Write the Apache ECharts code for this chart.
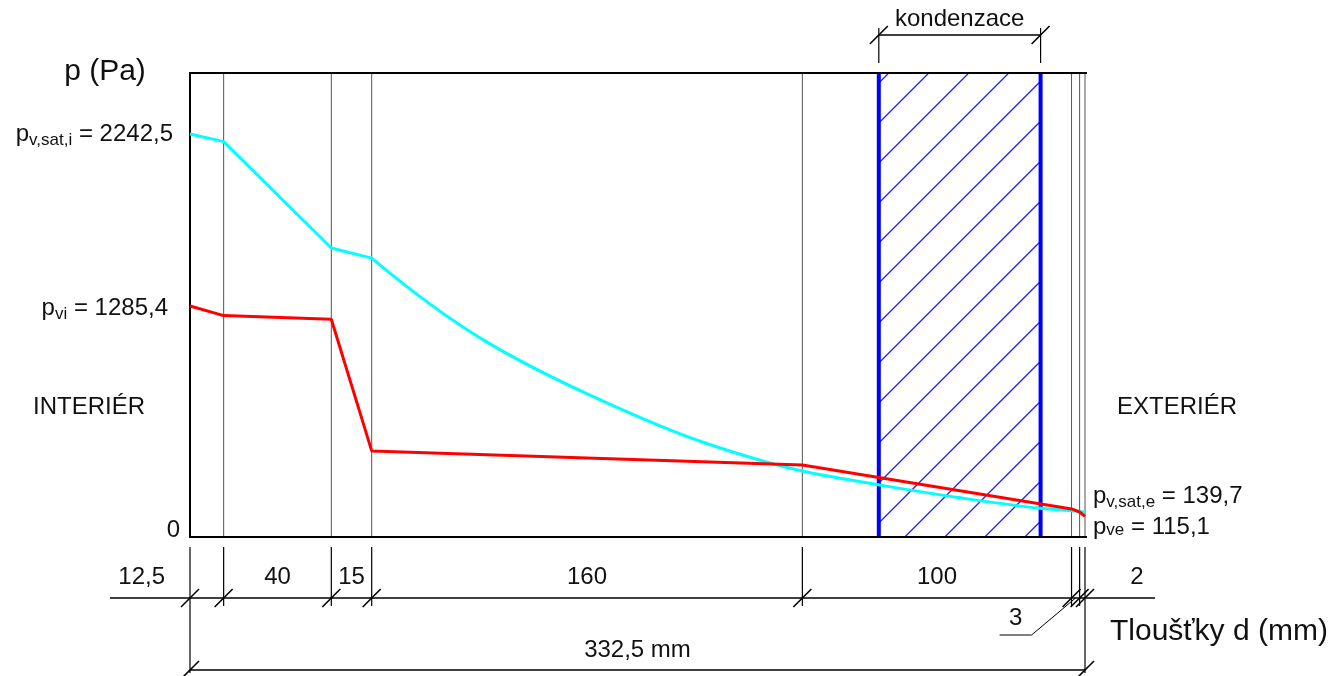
<!DOCTYPE html>
<html>
<head>
<meta charset="utf-8">
<script src="https://cdn.jsdelivr.net/npm/echarts@6/dist/echarts.min.js"></script>
<style>
  html, body { margin: 0; padding: 0; background: #fff; }
  #chart { width: 1343px; height: 676px; }
</style>
</head>
<body>
<div id="chart"></div>
<script>
// Layer thicknesses from the interior side (mm) and their dimension labels
const layerThickness = [12.5, 40, 15, 160, 100, 3, 2];
const layerLabels = ['12,5', '40', '15', '160', '100', '3', '2'];
const totalLabel = '332,5 mm';

// Pressures at the layer interfaces (Pa), interior -> exterior
const satPressure = [2242.5, 2200, 1608, 1552, 367, 146, 142, 139.7];
const vapPressure = [1285.4, 1232, 1212, 479, 401, 156, 139, 115.1];

// Saturation pressure through the insulation and the 100 mm layer, where it bends
const satCurveX = [67.5, 109.7, 152.4, 191.4, 227.5, 255.9, 286, 316, 327.5];
const satCurveP = [1552, 1090, 763, 523, 367, 290, 218, 160, 146];

// Condensation zone (mm from the interior surface)
const condensationZone = [255.9, 316.0];

// Axis range
const pMax = 2582;

// Interface positions (cumulative thickness)
const boundaries = [0];
layerThickness.forEach(t => boundaries.push(+(boundaries[boundaries.length - 1] + t).toFixed(3)));
const dTotal = boundaries[boundaries.length - 1];

const FONT = '"Liberation Sans", Arial, Helvetica, sans-serif';
const TXT = '#111';
const FS = 24;
const CYAN = '#00ffff', RED = '#ff0000';
const fmt = v => v.toFixed(1).replace('.', ',');

function zip(xs, ys) { return xs.map((x, i) => [x, ys[i]]); }

function line(x1, y1, x2, y2, stroke, w) {
  return { type: 'line', shape: { x1, y1, x2, y2 }, style: { stroke, lineWidth: w, lineCap: 'butt' }, silent: true };
}
function text(x, y, str, size, align, extra) {
  return {
    type: 'text', x, y, silent: true,
    style: Object.assign({ text: str, fontSize: size, fontFamily: FONT, fill: TXT, align: align || 'center', verticalAlign: 'middle' }, extra || {})
  };
}
function slash(x, y) { return line(x - 9, y + 9, x + 9, y - 9, '#000', 1.6); }
function subLabel(x, y, main, sub, value, align, drop) {
  return text(x, y, '{m|' + main + '}{s|' + sub + '}{m| = ' + fmt(value) + '}', FS, align, {
    rich: {
      m: { fontSize: FS, fontFamily: FONT, fill: TXT },
      s: { fontSize: 17, fontFamily: FONT, fill: TXT, padding: [drop, 0, 0, 0] }
    }
  });
}

// Plot frame, interface lines and the hatched condensation zone
function renderFrame(params, api) {
  const [x0, yB] = api.coord([0, 0]);
  const yT = api.coord([0, pMax])[1];
  const xE = api.coord([dTotal, 0])[0];
  const ch = [];
  boundaries.slice(1).forEach(b => {
    const x = api.coord([b, 0])[0];
    ch.push(line(x, yT, x, yB, '#555', 1));
  });
  const cx0 = api.coord([condensationZone[0], 0])[0];
  const cx1 = api.coord([condensationZone[1], 0])[0];
  const step = 40;
  for (let c = cx0 + yT + 10 - step; c < cx1 + yB + step; c += step) {
    const xa = Math.max(cx0, c - yB), xb = Math.min(cx1, c - yT);
    if (xb > xa) ch.push(line(xa, c - xa, xb, c - xb, '#2424e6', 1.3));
  }
  ch.push(line(cx0, yT, cx0, yB, '#0000ff', 4));
  ch.push(line(cx1, yT, cx1, yB, '#0000ff', 4));
  ch.push(line(x0 - 1, yT, xE + 2, yT, '#000', 2));
  ch.push(line(x0, yT - 1, x0, yB + 1, '#000', 2));
  ch.push(line(x0 - 1, yB, xE + 2, yB, '#000', 2));
  return { type: 'group', children: ch };
}

// Saturation pressure through the bending part: monotone cubic through the readings
function renderSatCurve(params, api) {
  const pts = satCurveX.map((x, i) => api.coord([x, satCurveP[i]]));
  const n = pts.length;
  const h = [], d = [];
  for (let k = 0; k < n - 1; k++) {
    h.push(pts[k + 1][0] - pts[k][0]);
    d.push((pts[k + 1][1] - pts[k][1]) / h[k]);
  }
  const m = new Array(n);
  for (let k = 1; k < n - 1; k++) {
    if (d[k - 1] * d[k] <= 0) { m[k] = 0; continue; }
    const w1 = 2 * h[k] + h[k - 1], w2 = h[k] + 2 * h[k - 1];
    m[k] = (w1 + w2) / (w1 / d[k - 1] + w2 / d[k]);
  }
  const edge = (h0, h1, d0, d1) => {
    let t = ((2 * h0 + h1) * d0 - h0 * d1) / (h0 + h1);
    if (t * d0 <= 0) t = 0;
    else if (d0 * d1 <= 0 && Math.abs(t) > Math.abs(3 * d0)) t = 3 * d0;
    return t;
  };
  m[0] = edge(h[0], h[1], d[0], d[1]);
  m[n - 1] = edge(h[n - 2], h[n - 3], d[n - 2], d[n - 3]);
  const ch = [];
  for (let k = 0; k < n - 1; k++) {
    const [xa, ya] = pts[k], [xb, yb] = pts[k + 1];
    const t = h[k] / 3;
    ch.push({
      type: 'bezierCurve', silent: true,
      shape: { x1: xa, y1: ya, x2: xb, y2: yb, cpx1: xa + t, cpy1: ya + m[k] * t, cpx2: xb - t, cpy2: yb - m[k + 1] * t },
      style: { stroke: CYAN, lineWidth: 3, fill: null, lineCap: 'round' }
    });
  }
  return { type: 'group', children: ch };
}

// Dimension lines and all the text around the plot
function renderNotes(params, api) {
  const [x0, yB] = api.coord([0, 0]);
  const yT = api.coord([0, pMax])[1];
  const xE = api.coord([dTotal, 0])[0];
  const yDim = yB + 61, yTot = yB + 133;
  const ch = [];
  const n = boundaries.length;

  // thickness dimension row
  ch.push(line(x0 - 80, yDim, xE + 70, yDim, '#000', 1.6));
  boundaries.forEach((b, i) => {
    const x = api.coord([b, 0])[0];
    const end = (i === 0 || i === n - 1) ? yTot + 3 : yDim + 8;
    ch.push(line(x, yB + 10, x, end, '#000', 1.2));
    ch.push(slash(x, yDim));
  });
  layerLabels.forEach((lab, i) => {
    const xa = api.coord([boundaries[i], 0])[0];
    const xb = api.coord([boundaries[i + 1], 0])[0];
    if (i === 0) {
      ch.push(text(xa - 25, yDim - 21, lab, FS, 'right'));
    } else if (i === layerLabels.length - 1) {
      ch.push(text(xb + 52, yDim - 21, lab, FS, 'center'));
    } else if (i === layerLabels.length - 2) {
      const xm = (xa + xb) / 2;
      ch.push(line(xm, yDim, xm - 44, yDim + 37, '#000', 1));
      ch.push(line(xm - 44, yDim + 37, xm - 76, yDim + 37, '#000', 1));
      ch.push(text(xm - 60, yDim + 20, lab, FS, 'center'));
    } else {
      ch.push(text((xa + xb) / 2, yDim - 21, lab, FS, 'center'));
    }
  });

  // total thickness
  ch.push(line(x0, yTot, xE, yTot, '#000', 1.6));
  ch.push(slash(x0, yTot));
  ch.push(slash(xE, yTot));
  ch.push(text((x0 + xE) / 2, yTot - 20, totalLabel, FS, 'center'));
  ch.push(text(xE + 25, yDim + 34, 'Tloušťky d (mm)', 30, 'left'));

  // condensation zone dimension
  const cx0 = api.coord([condensationZone[0], 0])[0];
  const cx1 = api.coord([condensationZone[1], 0])[0];
  const yK = yT - 38;
  ch.push(line(cx0, yK, cx1, yK, '#000', 1.6));
  ch.push(line(cx0, yT - 45, cx0, yT - 10, '#000', 1.2));
  ch.push(line(cx1, yT - 45, cx1, yT - 10, '#000', 1.2));
  ch.push(slash(cx0, yK));
  ch.push(slash(cx1, yK));
  ch.push(text((cx0 + cx1) / 2, yK - 16, 'kondenzace', FS, 'center'));

  // axis texts
  ch.push(text(x0 - 85, yT - 1, 'p (Pa)', 30, 'center'));
  ch.push(text(x0 - 10, yB - 7, '0', FS, 'right'));
  ch.push(text(x0 - 157, yB - 130, 'INTERIÉR', FS, 'left'));
  ch.push(text(xE + 32, yB - 130, 'EXTERIÉR', FS, 'left'));

  // boundary pressures
  const last = satPressure.length - 1;
  ch.push(subLabel(x0 - 17, api.coord([0, satPressure[0]])[1], 'p', 'v,sat,i', satPressure[0], 'right', 12));
  ch.push(subLabel(x0 - 22, api.coord([0, vapPressure[0]])[1] + 2, 'p', 'vi', vapPressure[0], 'right', 12));
  ch.push(subLabel(xE + 8, api.coord([dTotal, satPressure[last]])[1] - 16, 'p', 'v,sat,e', satPressure[last], 'left', 12));
  ch.push(subLabel(xE + 8, api.coord([dTotal, vapPressure[last]])[1] + 11, 'p', 've', vapPressure[last], 'left', 6));
  return { type: 'group', children: ch };
}

const chart = echarts.init(document.getElementById('chart'), null, { renderer: 'canvas' });
const curveStyle = (color) => ({ type: 'line', symbol: 'none', silent: true, z: 5, lineStyle: { color, width: 3 }, itemStyle: { color } });

chart.setOption({
  animation: false,
  backgroundColor: '#fff',
  grid: { left: 190, right: 258, top: 73, bottom: 139 },
  xAxis: { type: 'value', min: 0, max: dTotal, show: false },
  yAxis: { type: 'value', min: 0, max: pMax, show: false },
  series: [
    { type: 'custom', name: 'frame', z: 1, clip: false, silent: true, renderItem: renderFrame, data: [[0, 0]] },
    Object.assign(curveStyle(CYAN), { name: 'p_v,sat interior', data: zip(boundaries.slice(0, 4), satPressure.slice(0, 4)) }),
    { type: 'custom', name: 'p_v,sat', z: 5, clip: false, silent: true, renderItem: renderSatCurve, data: [[0, 0]] },
    Object.assign(curveStyle(CYAN), { name: 'p_v,sat exterior', data: zip(boundaries.slice(5), satPressure.slice(5)) }),
    Object.assign(curveStyle(RED), { name: 'p_v', z: 6, data: zip(boundaries, vapPressure) }),
    { type: 'custom', name: 'notes', z: 10, clip: false, silent: true, renderItem: renderNotes, data: [[0, 0]] }
  ]
});
</script>
</body>
</html>
